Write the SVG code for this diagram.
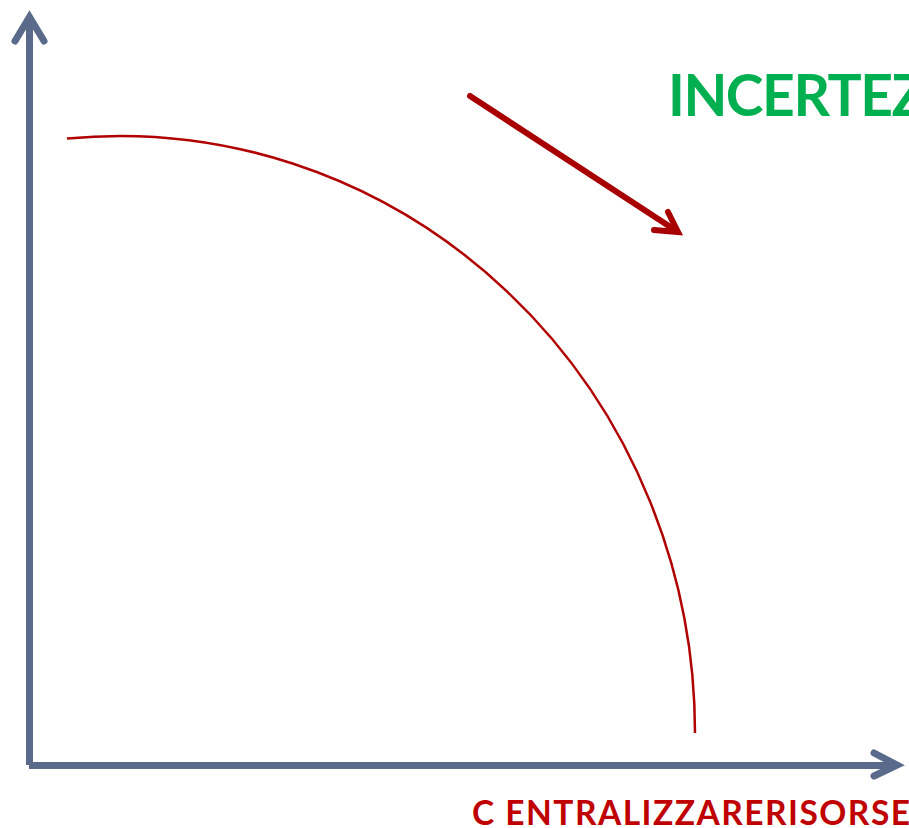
<svg xmlns="http://www.w3.org/2000/svg" width="909" height="828" viewBox="0 0 909 828">
<style>
.axis{fill:none;stroke:#596A8B;stroke-width:7}
.head{fill:none;stroke:#596A8B;stroke-width:7;stroke-linecap:round;stroke-linejoin:miter}
.curve{fill:none;stroke:#B00000;stroke-width:2.5}
.arrow{fill:none;stroke:#A80000;stroke-width:6;stroke-linecap:round;stroke-linejoin:miter}
.lbl{font-family:Lato,"Liberation Sans",sans-serif;font-weight:bold}
</style>
<rect width="909" height="828" fill="#FFFFFF"/>
<g id="y-axis">
<line class="axis" x1="29.5" y1="765" x2="29.5" y2="20"/>
<polyline class="head" points="15,41 29.5,17 44,41"/>
</g>
<g id="x-axis">
<line class="axis" x1="29" y1="765.5" x2="894" y2="765.5"/>
<polyline class="head" points="874,753 897,765 874,776"/>
</g>
<g id="connectors">
<path id="curve" class="curve" d="M67,138.5 A575,597 0 0 1 695,733"/>
<g id="trend-arrow">
<line class="arrow" x1="470" y1="96" x2="675" y2="230"/>
<polyline class="arrow" points="654,230 678,232 668,212"/>
</g>
</g>
<g id="label-incertezza">
<text class="lbl" x="668" y="116" font-size="57" fill="#00B050" textLength="258" lengthAdjust="spacing">INCERTEZ</text>
</g>
<g id="label-centralizzare">
<text class="lbl" x="472" y="825" font-size="33.5" fill="#C00000" textLength="438" lengthAdjust="spacing">C ENTRALIZZARERISORSE</text>
</g>
</svg>
